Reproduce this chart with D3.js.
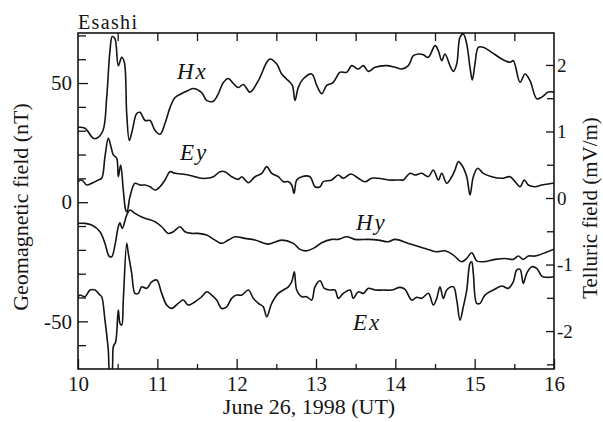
<!DOCTYPE html>
<html><head><meta charset="utf-8">
<script src="https://cdn.jsdelivr.net/npm/d3@7"></script>
<style>
html,body{margin:0;padding:0;background:#fff;}
svg{display:block;}
</style></head>
<body>
<script>
// ---- data (hour UT, value) ----
const hxData = [[10.00,31.4],[10.088,31.0],[10.193,26.8],[10.236,26.8],[10.315,30.1],[10.362,44.1],[10.403,63.6],[10.432,69.5],[10.466,68.6],[10.508,57.3],[10.551,60.8],[10.584,58.7],[10.614,37.2],[10.647,25.9],[10.684,30.1],[10.740,37.2],[10.782,37.7],[10.845,34.3],[10.908,34.3],[10.971,30.1],[11.034,28.5],[11.097,33.1],[11.160,39.7],[11.223,43.9],[11.307,45.6],[11.390,46.9],[11.453,47.7],[11.559,46.0],[11.622,42.7],[11.706,42.4],[11.769,45.6],[11.832,50.2],[11.895,51.9],[11.958,49.8],[12.021,48.1],[12.084,49.4],[12.168,46.2],[12.273,51.0],[12.379,58.7],[12.420,60.1],[12.505,58.0],[12.568,53.8],[12.651,51.0],[12.702,49.0],[12.735,42.7],[12.777,48.2],[12.840,51.8],[12.946,53.8],[13.009,49.0],[13.072,45.5],[13.135,49.0],[13.218,50.3],[13.303,54.5],[13.387,54.5],[13.450,57.3],[13.533,55.9],[13.596,57.3],[13.659,54.9],[13.744,56.6],[13.891,57.3],[13.996,56.6],[14.080,55.9],[14.164,57.3],[14.227,61.5],[14.290,62.2],[14.353,61.9],[14.416,60.8],[14.500,65.7],[14.542,63.6],[14.585,59.4],[14.626,62.2],[14.689,57.3],[14.731,54.9],[14.774,58.0],[14.815,69.2],[14.857,70.6],[14.900,66.4],[14.941,56.6],[14.970,51.3],[15.004,58.0],[15.046,65.0],[15.109,65.0],[15.215,62.9],[15.341,60.1],[15.446,58.7],[15.487,59.4],[15.572,50.3],[15.635,53.8],[15.698,51.0],[15.782,43.4],[15.845,44.1],[15.928,46.2],[16.000,46.2]];

const eyData = [[10.000,0.248],[10.047,0.271],[10.110,0.195],[10.173,0.221],[10.256,0.271],[10.299,0.296],[10.340,0.621],[10.382,0.898],[10.416,0.771],[10.445,0.647],[10.488,0.597],[10.508,0.320],[10.538,0.496],[10.571,0.120],[10.601,-0.180],[10.618,-0.211],[10.655,0.020],[10.718,0.221],[10.782,0.195],[10.845,0.195],[10.908,0.170],[10.971,0.120],[11.034,0.170],[11.097,0.271],[11.160,0.395],[11.223,0.371],[11.307,0.361],[11.390,0.346],[11.475,0.320],[11.559,0.296],[11.622,0.296],[11.706,0.320],[11.790,0.395],[11.853,0.395],[11.937,0.320],[12.021,0.281],[12.064,0.320],[12.147,0.230],[12.231,0.320],[12.316,0.371],[12.379,0.471],[12.442,0.371],[12.525,0.320],[12.588,0.245],[12.651,0.245],[12.694,0.195],[12.723,0.071],[12.757,0.271],[12.820,0.320],[12.924,0.320],[12.987,0.170],[13.051,0.170],[13.092,0.245],[13.198,0.271],[13.281,0.346],[13.344,0.296],[13.441,0.361],[13.533,0.296],[13.618,0.245],[13.702,0.296],[13.785,0.296],[13.911,0.271],[14.059,0.271],[14.101,0.271],[14.185,0.371],[14.248,0.346],[14.332,0.371],[14.416,0.320],[14.479,0.421],[14.542,0.271],[14.585,0.371],[14.648,0.221],[14.711,0.320],[14.752,0.421],[14.794,0.546],[14.837,0.496],[14.900,0.320],[14.941,0.045],[14.983,0.320],[15.038,0.447],[15.109,0.371],[15.215,0.320],[15.341,0.296],[15.446,0.320],[15.509,0.245],[15.572,0.170],[15.626,0.271],[15.676,0.195],[15.761,0.170],[15.845,0.195],[15.928,0.211],[16.000,0.221]];

const hyData = [[10.000,-8.9],[10.088,-8.9],[10.173,-9.6],[10.277,-12.4],[10.340,-17.3],[10.391,-22.6],[10.425,-22.9],[10.466,-18.0],[10.508,-10.3],[10.529,-8.7],[10.558,-11.0],[10.614,-5.4],[10.655,-3.3],[10.718,-4.7],[10.803,-6.2],[10.886,-7.2],[10.971,-8.2],[11.055,-10.3],[11.138,-13.1],[11.201,-12.4],[11.286,-10.3],[11.349,-12.4],[11.433,-13.1],[11.516,-13.1],[11.622,-13.8],[11.727,-15.9],[11.811,-17.3],[11.895,-15.9],[11.979,-14.5],[12.105,-15.2],[12.231,-15.9],[12.399,-17.6],[12.568,-15.9],[12.714,-17.3],[12.798,-19.8],[12.883,-20.4],[12.987,-19.0],[13.072,-17.0],[13.198,-15.6],[13.281,-15.6],[13.387,-14.5],[13.492,-15.6],[13.659,-15.6],[13.785,-15.9],[13.911,-16.6],[13.996,-15.6],[14.164,-17.3],[14.332,-19.0],[14.437,-20.1],[14.522,-20.8],[14.626,-20.4],[14.731,-22.2],[14.837,-25.0],[14.900,-23.6],[14.963,-21.2],[15.026,-24.6],[15.109,-25.0],[15.257,-24.0],[15.383,-23.6],[15.487,-24.0],[15.550,-22.6],[15.613,-24.0],[15.676,-22.6],[15.761,-22.6],[15.887,-21.2],[16.000,-19.7]];

const exData = [[10.000,-1.489],[10.025,-1.459],[10.088,-1.484],[10.151,-1.383],[10.214,-1.383],[10.277,-1.459],[10.299,-1.484],[10.340,-1.835],[10.382,-2.286],[10.403,-2.617],[10.425,-2.617],[10.445,-2.236],[10.475,-2.161],[10.508,-1.684],[10.529,-1.884],[10.551,-1.910],[10.571,-1.534],[10.614,-0.681],[10.634,-0.832],[10.677,-1.132],[10.718,-1.433],[10.760,-1.433],[10.803,-1.334],[10.866,-1.358],[10.929,-1.259],[10.992,-1.233],[11.055,-1.433],[11.118,-1.609],[11.181,-1.659],[11.264,-1.583],[11.327,-1.534],[11.390,-1.609],[11.475,-1.559],[11.559,-1.484],[11.622,-1.409],[11.685,-1.459],[11.748,-1.534],[11.811,-1.659],[11.874,-1.635],[11.937,-1.508],[12.000,-1.459],[12.064,-1.459],[12.147,-1.383],[12.210,-1.508],[12.273,-1.583],[12.336,-1.635],[12.379,-1.785],[12.442,-1.583],[12.525,-1.433],[12.588,-1.383],[12.651,-1.335],[12.694,-1.259],[12.727,-1.108],[12.757,-1.383],[12.820,-1.484],[12.883,-1.484],[12.946,-1.534],[12.987,-1.334],[13.051,-1.244],[13.105,-1.358],[13.177,-1.383],[13.240,-1.383],[13.281,-1.508],[13.344,-1.433],[13.429,-1.383],[13.470,-1.508],[13.533,-1.409],[13.596,-1.433],[13.659,-1.358],[13.744,-1.383],[13.849,-1.383],[13.954,-1.383],[14.059,-1.343],[14.122,-1.373],[14.206,-1.534],[14.269,-1.493],[14.332,-1.508],[14.416,-1.433],[14.479,-1.609],[14.522,-1.508],[14.563,-1.334],[14.605,-1.508],[14.648,-1.383],[14.731,-1.334],[14.774,-1.534],[14.815,-1.835],[14.857,-1.635],[14.900,-1.383],[14.941,-0.982],[14.962,-0.958],[14.983,-1.132],[15.026,-1.583],[15.067,-1.583],[15.130,-1.459],[15.235,-1.383],[15.341,-1.323],[15.424,-1.358],[15.487,-1.259],[15.529,-1.083],[15.572,-1.072],[15.613,-1.283],[15.656,-1.132],[15.719,-1.033],[15.782,-1.057],[15.845,-1.173],[15.908,-1.192],[16.000,-1.183]];

const xTickLabels = [10, 11, 12, 13, 14, 15, 16];
const leftTickLabels = [-50, 0, 50];
const rightTickLabels = [-2, -1, 0, 1, 2];
const seriesNames = ["Hx", "Ey", "Hy", "Ex"];

// ---- layout ----
const FONT = '"Liberation Serif", Tinos, "Times New Roman", Times, "Nimbus Roman", "DejaVu Serif", serif';
const W = 603, H = 422;
const L = 78, R = 554, T = 33, B = 369;
const svg = d3.select("body").append("svg").attr("width", W).attr("height", H)
  .attr("font-family", FONT);

const x = d3.scaleLinear().domain([10, 16]).range([L, R]);
const yL = d3.scaleLinear().domain([-70, 71]).range([B, T]);
const yR = d3.scaleLinear().domain([-2.57, 2.48]).range([B, T]);

svg.append("defs").append("clipPath").attr("id", "clip")
  .append("rect").attr("x", L).attr("y", T).attr("width", R - L).attr("height", B - T);

const ink = "#141414";

function styleAxis(g) {
  g.attr("font-family", FONT);
  g.select(".domain").remove();
  g.selectAll("line").attr("stroke", ink).attr("stroke-width", 1.3);
  g.selectAll("text").attr("font-size", 21).attr("fill", ink).attr("font-family", FONT);
}
// bottom
svg.append("g").attr("transform", `translate(0,${B})`)
  .call(d3.axisBottom(x).tickValues(d3.range(10.5, 16, 1)).tickSize(-5).tickFormat(""))
  .call(styleAxis);
svg.append("g").attr("transform", `translate(0,${B})`)
  .call(d3.axisBottom(x).tickValues(xTickLabels).tickSize(-10).tickPadding(7).tickFormat(d3.format("d")))
  .call(styleAxis);
// top
svg.append("g").attr("transform", `translate(0,${T})`)
  .call(d3.axisTop(x).tickValues(d3.range(10.5, 16, 0.5)).tickSize(-8).tickFormat(""))
  .call(styleAxis);
// left
svg.append("g").attr("transform", `translate(${L},0)`)
  .call(d3.axisLeft(yL).tickValues(d3.range(-60, 71, 10).filter(v => v % 50 !== 0)).tickSize(-8).tickFormat(""))
  .call(styleAxis);
svg.append("g").attr("transform", `translate(${L},0)`)
  .call(d3.axisLeft(yL).tickValues(leftTickLabels).tickSize(-10).tickPadding(6).tickFormat(d => d < 0 ? "-" + Math.abs(d) : String(d)))
  .call(styleAxis);
// right
svg.append("g").attr("transform", `translate(${R},0)`)
  .call(d3.axisRight(yR).tickValues(d3.range(-2.5, 2.5, 1)).tickSize(-7).tickFormat(""))
  .call(styleAxis);
svg.append("g").attr("transform", `translate(${R},0)`)
  .call(d3.axisRight(yR).tickValues(rightTickLabels).tickSize(-8).tickPadding(3).tickFormat(d => d < 0 ? "-" + Math.abs(d) : String(d)))
  .call(g => { styleAxis(g); g.selectAll("text").attr("font-size", 19); });

// frame
svg.append("rect").attr("x", L).attr("y", T).attr("width", R - L).attr("height", B - T)
  .attr("fill", "none").attr("stroke", ink).attr("stroke-width", 1.6);

// lines
const lineL = d3.line().x(d => x(d[0])).y(d => yL(d[1])).curve(d3.curveCatmullRom.alpha(0.5));
const lineR = d3.line().x(d => x(d[0])).y(d => yR(d[1])).curve(d3.curveCatmullRom.alpha(0.5));
const lg = svg.append("g").attr("clip-path", "url(#clip)");
[[hxData, lineL], [eyData, lineR], [hyData, lineL], [exData, lineR]].forEach(([d, ln]) => {
  lg.append("path").datum(d).attr("d", ln).attr("fill", "none")
    .attr("stroke", ink).attr("stroke-width", 1.6).attr("stroke-linejoin", "round");
});

// series labels
const labelPos = [[177, 79], [180, 160], [356, 230], [353, 330]];
seriesNames.forEach((n, i) => {
  svg.append("text").attr("x", labelPos[i][0]).attr("y", labelPos[i][1]).attr("fill", ink)
    .attr("font-size", 23).attr("font-style", "italic").attr("letter-spacing", 2).text(n);
});

// titles
svg.append("text").attr("x", L).attr("y", 29).attr("font-size", 20).attr("fill", ink)
  .attr("textLength", 59).attr("lengthAdjust", "spacing").text("Esashi");
svg.append("text").attr("x", 309).attr("y", 414).attr("font-size", 22).attr("fill", ink)
  .attr("text-anchor", "middle").text("June 26, 1998 (UT)");
svg.append("text").attr("transform", "translate(28,207) rotate(-90)").attr("fill", ink)
  .attr("font-size", 22).attr("text-anchor", "middle").text("Geomagnetic field (nT)");
svg.append("text").attr("transform", "translate(597,208) rotate(-90)").attr("fill", ink)
  .attr("font-size", 21).attr("text-anchor", "middle").text("Telluric field (mV/m)");
</script>
</body></html>
